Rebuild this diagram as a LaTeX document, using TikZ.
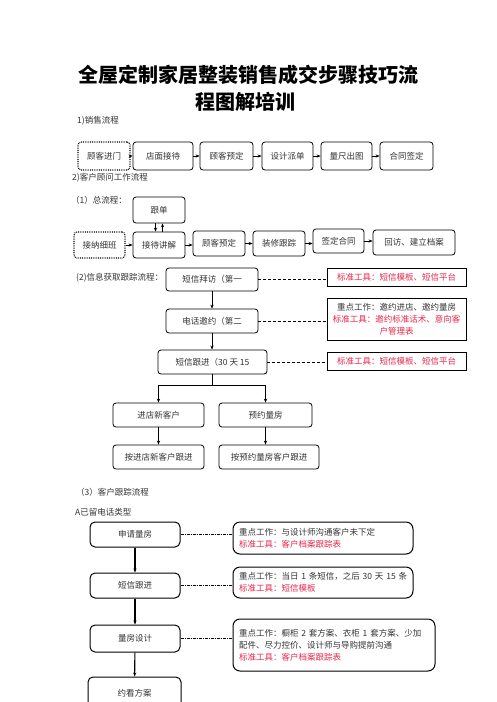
\documentclass[tikz,border=0pt]{standalone}
\usepackage{fontspec}
\setmainfont{Noto Sans CJK SC}
\usetikzlibrary{arrows.meta, positioning, calc}
\definecolor{tipred}{HTML}{E8254A}
\definecolor{inkgray}{HTML}{333333}

\begin{document}
\begin{tikzpicture}[x=1pt, y=-1pt, font=\fontsize{8.5}{12}\selectfont, >={Stealth[length=4pt, width=3.2pt]},
    stepbox/.style={draw, rounded corners=3pt, line width=0.8pt, text=inkgray, inner sep=1pt},
    startbox/.style={stepbox, densely dotted, line width=1.1pt},
    toolbox/.style={draw, line width=0.8pt, inner sep=1pt, text=tipred, align=center},
    trackbox/.style={draw, rounded corners=5pt, line width=1pt, text=inkgray, minimum width=90pt, minimum height=25pt},
    notebox/.style={draw, rounded corners=7pt, line width=1pt, text=inkgray, align=left, inner xsep=6pt, inner ysep=2pt},
    heading/.style={anchor=west, text=inkgray, inner sep=0pt},
    link/.style={->, line width=0.6pt},
    tie/.style={densely dashed, line width=0.7pt},
    tiedot/.style={dash pattern=on 3pt off 1pt on 1pt off 1pt, line width=0.7pt}]
    \clip (0,0) rectangle (496,702);

    % title
    \node[font=\fontsize{20}{24}\selectfont\bfseries] (title1) at (248,75) {全屋定制家居整装销售成交步骤技巧流};
    \node[font=\fontsize{20}{24}\selectfont\bfseries] (title2) at (245.5,102) {程图解培训};

    % 1) sales
    \node[heading] (sec1) at (77,121) {1)销售流程};
    \node[startbox, minimum width=52pt, minimum height=28pt] (enter) at (104,156) {顾客进门};
    \node[stepbox, minimum width=60pt, minimum height=28pt] (reception) at (163,156) {店面接待};
    \node[stepbox, minimum width=53pt, minimum height=28pt] (order1) at (226.5,156) {顾客预定};
    \node[stepbox, minimum width=51pt, minimum height=28pt] (dispatch) at (287.5,156) {设计派单};
    \node[stepbox, minimum width=51pt, minimum height=28pt] (measure) at (346.5,156) {量尺出图};
    \node[stepbox, minimum width=53pt, minimum height=28pt] (contract1) at (406.5,156) {合同签定};
    \foreach \a/\b in {enter/reception, reception/order1, order1/dispatch, dispatch/measure, measure/contract1}
        \draw[link] (\a) -- (\b);

    % 2) consultant
    \node[heading] (sec2) at (72,178) {2)客户顾问工作流程};
    \node[heading] (sec21) at (71,200) {（1）总流程：};
    \node[stepbox, minimum width=52pt, minimum height=26pt] (follow) at (159,210) {跟单};
    \node[startbox, minimum width=51pt, minimum height=26pt] (prep) at (99.5,245) {接纳细班};
    \node[stepbox, minimum width=52pt, minimum height=26pt] (explain) at (159,245) {接待讲解};
    \node[stepbox, minimum width=52pt, minimum height=25pt] (order2) at (219,243.5) {顾客预定};
    \node[stepbox, minimum width=52pt, minimum height=25pt] (decor) at (279,243.5) {装修跟踪};
    \node[stepbox, minimum width=51pt, minimum height=24pt] (contract2) at (338.5,241) {签定合同};
    \node[stepbox, minimum width=82pt, minimum height=25pt] (revisit) at (414,242.5) {回访、建立档案};
    \foreach \a/\b in {prep/explain, explain/order2, order2/decor, decor/contract2, contract2/revisit}
        \draw[link] (\a.east) -- (\a.east -| \b.west);
    \draw[link] ([xshift=-3.5pt]follow.south) -- ([xshift=-3.5pt]explain.north);
    \draw[link] ([xshift=3.5pt]explain.north) -- ([xshift=3.5pt]follow.south);

    \node[heading] (sec22) at (76,278) {(2)信息获取跟踪流程：};
    \node[stepbox, minimum width=92pt, minimum height=23pt] (sms1) at (212,279.5) {短信拜访（第一};
    \node[toolbox, minimum width=139pt, minimum height=18pt] (tool1) at (396.5,277) {标准工具：短信模板、短信平台};
    \node[stepbox, minimum width=92pt, minimum height=24pt] (call) at (212,321) {电话邀约（第二};
    \node[toolbox, text=inkgray, minimum width=139pt, minimum height=42pt] (tool2) at (396.5,319)
        {重点工作：邀约进店、邀约量房\\\textcolor{tipred}{标准工具：邀约标准话术、意向客}\\\textcolor{tipred}{户管理表}};
    \node[stepbox, minimum width=109pt, minimum height=24pt] (sms3) at (212.5,362) {短信跟进（30 天 15};
    \node[toolbox, minimum width=139pt, minimum height=18pt] (tool3) at (396.5,361) {标准工具：短信模板、短信平台};
    \draw[link] (sms1) -- (call);
    \draw[link] (call) -- (call.south |- sms3.north);
    \foreach \a/\b in {sms1/tool1, call/tool2, sms3/tool3}
        \draw[tie] (\a.east) -- (\a.east -| \b.west);

    \node[stepbox, minimum width=91pt, minimum height=24pt] (newcust) at (158.5,415) {进店新客户};
    \node[stepbox, minimum width=93pt, minimum height=24pt] (roombook) at (265.5,415) {预约量房};
    \node[stepbox, minimum width=91pt, minimum height=24pt] (follownew) at (158.5,457) {按进店新客户跟进};
    \node[stepbox, minimum width=100pt, minimum height=24pt] (followbook) at (269,457) {按预约量房客户跟进};
    \coordinate (fork) at ($(sms3.south)+(0,11)$);
    \draw[line width=0.6pt] (sms3.south) -- (fork);
    \draw[link] (fork) -| (newcust.north);
    \draw[link] (fork) -| (roombook.north);
    \draw[link] (newcust) -- (follownew);
    \draw[link] (roombook.south) -- (roombook.south |- followbook.north);

    % 3) tracking
    \node[heading] (sec3) at (76,492) {（3）客户跟踪流程};
    \node[heading] (secA) at (75,512) {A已留电话类型};
    \node[trackbox] (apply) at (135,534.5) {申请量房};
    \node[trackbox] (smsfollow) at (135,585.5) {短信跟进};
    \node[trackbox, minimum height=27pt] (design) at (135,638.5) {量房设计};
    \node[trackbox, minimum width=93pt, minimum height=32pt] (visit) at (134.5,693) {约看方案};
    \node[notebox, text width=168pt, minimum height=32pt] (note1) at (323,538)
        {重点工作：与设计师沟通客户未下定\\\textcolor{tipred}{标准工具：客户档案跟踪表}};
    \node[notebox, text width=168pt, minimum height=31pt] (note2) at (323,582.5)
        {重点工作：当日~1~条短信，之后~30~天~15~条\\\textcolor{tipred}{标准工具：短信模板}};
    \node[notebox, text width=190pt, minimum height=52pt] (note3) at (334,645)
        {重点工作：橱柜~2~套方案、衣柜~1~套方案、少加\\配件、尽力控价、设计师与导购提前沟通\\\textcolor{tipred}{标准工具：客户档案跟踪表}};
    \foreach \a/\b in {apply/smsfollow, smsfollow/design, design/visit}
        \draw[link, line width=1.1pt] (\a) -- (\b);
    \foreach \a/\b in {apply/note1, smsfollow/note2, design/note3}
        \draw[tiedot] (\a.east) -- (\a.east -| \b.west);
\end{tikzpicture}
\end{document}
